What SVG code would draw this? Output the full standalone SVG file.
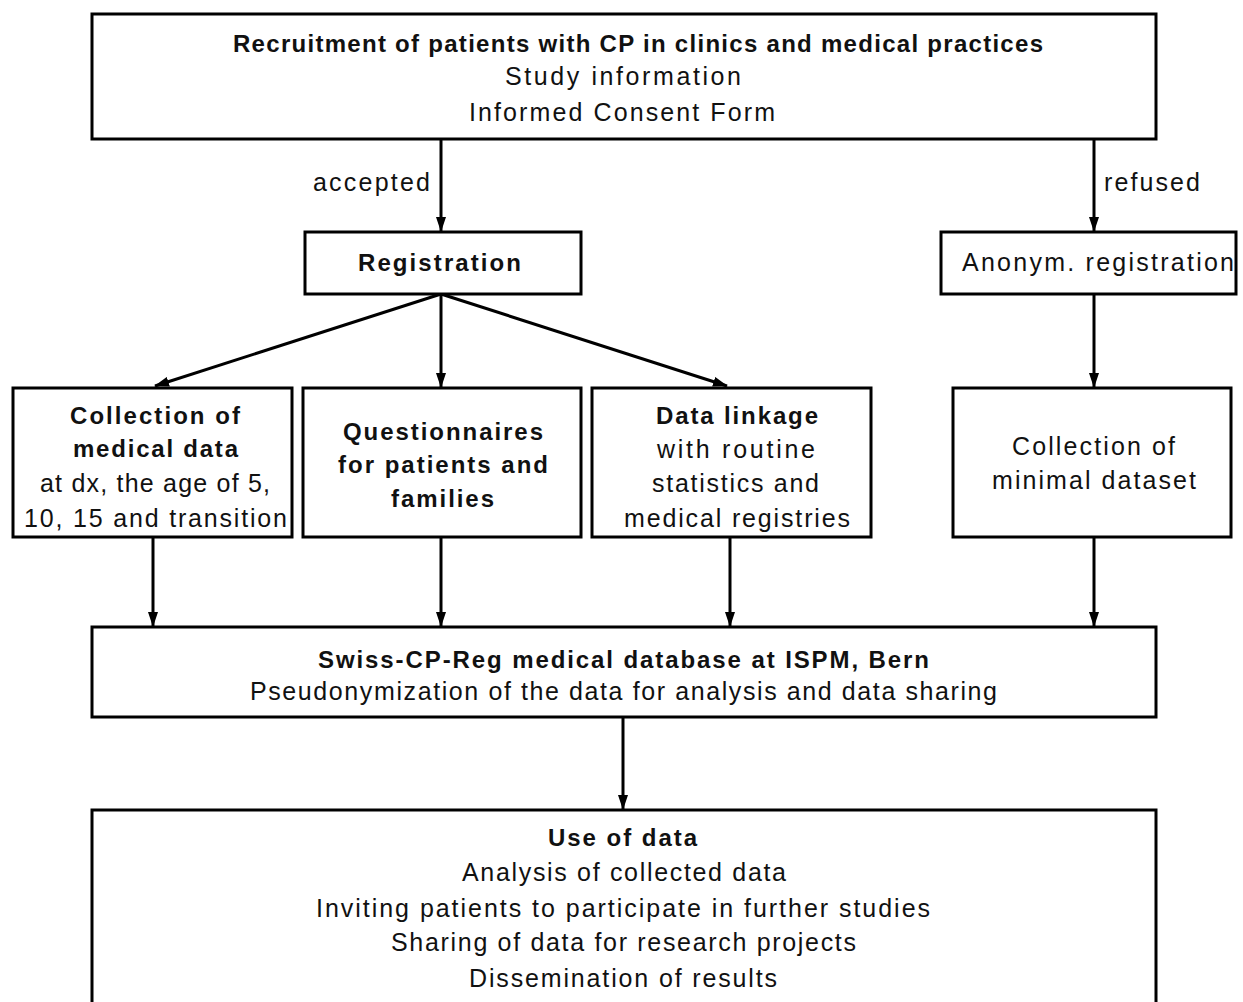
<svg xmlns="http://www.w3.org/2000/svg" width="1243" height="1002" viewBox="0 0 1243 1002">
<style>
.box{fill:#fff;stroke:#000;stroke-width:3}
.t{font-family:"Liberation Sans",Arial,sans-serif;font-size:25px;fill:#111;text-anchor:middle}
.b{font-weight:bold;font-size:24px}
.c{stroke:#000;stroke-width:3;fill:none;marker-end:url(#ah)}
</style>
<defs>
<marker id="ah" markerWidth="15" markerHeight="10" refX="14" refY="5" orient="auto" markerUnits="userSpaceOnUse" viewBox="0 0 15 10">
<path d="M0,0 L15,5 L0,10 Z" fill="#000"/>
</marker>
</defs>
<g id="connectors">
<line class="c" x1="441" y1="139" x2="441" y2="231"/>
<line class="c" x1="1094" y1="139" x2="1094" y2="231"/>
<line class="c" x1="441" y1="294" x2="155" y2="386"/>
<line class="c" x1="441" y1="294" x2="441" y2="387"/>
<line class="c" x1="441" y1="294" x2="727" y2="386"/>
<line class="c" x1="1094" y1="294" x2="1094" y2="387"/>
<line class="c" x1="153" y1="537" x2="153" y2="626"/>
<line class="c" x1="441" y1="537" x2="441" y2="626"/>
<line class="c" x1="730" y1="537" x2="730" y2="626"/>
<line class="c" x1="1094" y1="537" x2="1094" y2="626"/>
<line class="c" x1="623" y1="717" x2="623" y2="809"/>
<text class="t" x="371.5" y="191" textLength="117">accepted</text>
<text class="t" x="1152" y="191" textLength="96">refused</text>
</g>
<g id="recruitment">
<rect class="box" x="92" y="14" width="1064" height="125"/>
<text class="t b" x="638" y="52" textLength="810">Recruitment of patients with CP in clinics and medical practices</text>
<text class="t" x="623" y="85" textLength="236">Study information</text>
<text class="t" x="622" y="121" textLength="306">Informed Consent Form</text>
</g>
<g id="registration">
<rect class="box" x="305" y="232" width="276" height="62"/>
<text class="t b" x="439.5" y="271" textLength="163">Registration</text>
</g>
<g id="anonym">
<rect class="box" x="941" y="232" width="295" height="62"/>
<text class="t" x="1098" y="271" textLength="272">Anonym. registration</text>
</g>
<g id="medical">
<rect class="box" x="13" y="388" width="279" height="149"/>
<text class="t b" x="155" y="424" textLength="170">Collection of</text>
<text class="t b" x="155.5" y="457" textLength="165">medical data</text>
<text class="t" x="155" y="492" textLength="230">at dx, the age of 5,</text>
<text class="t" x="155.5" y="527" textLength="263">10, 15 and transition</text>
</g>
<g id="questionnaires">
<rect class="box" x="303" y="388" width="278" height="149"/>
<text class="t b" x="443" y="440" textLength="200">Questionnaires</text>
<text class="t b" x="443" y="473" textLength="210">for patients and</text>
<text class="t b" x="442.5" y="507" textLength="103">families</text>
</g>
<g id="linkage">
<rect class="box" x="592" y="388" width="279" height="149"/>
<text class="t b" x="737" y="424" textLength="162">Data linkage</text>
<text class="t" x="736" y="458" textLength="158">with routine</text>
<text class="t" x="735.5" y="492" textLength="167">statistics and</text>
<text class="t" x="737" y="527" textLength="226">medical registries</text>
</g>
<g id="minimal">
<rect class="box" x="953" y="388" width="278" height="149"/>
<text class="t" x="1093.5" y="455" textLength="163">Collection of</text>
<text class="t" x="1094" y="489" textLength="204">minimal dataset</text>
</g>
<g id="database">
<rect class="box" x="92" y="627" width="1064" height="90"/>
<text class="t b" x="623.5" y="668" textLength="611">Swiss-CP-Reg medical database at ISPM, Bern</text>
<text class="t" x="623.5" y="700" textLength="747">Pseudonymization of the data for analysis and data sharing</text>
</g>
<g id="use">
<rect class="box" x="92" y="810" width="1064" height="200"/>
<text class="t b" x="622.5" y="846" textLength="149">Use of data</text>
<text class="t" x="624" y="881" textLength="324">Analysis of collected data</text>
<text class="t" x="623" y="917" textLength="614">Inviting patients to participate in further studies</text>
<text class="t" x="623.5" y="951" textLength="465">Sharing of data for research projects</text>
<text class="t" x="623" y="987" textLength="308">Dissemination of results</text>
</g>
</svg>
